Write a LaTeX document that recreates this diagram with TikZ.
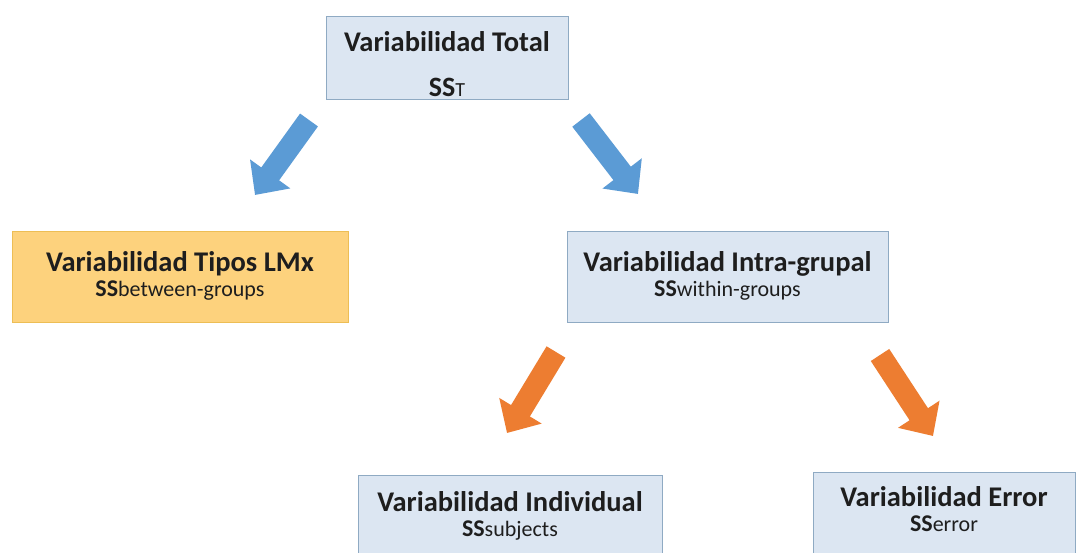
\documentclass[tikz,border=0pt]{standalone}
\usepackage{fontspec}
\setmainfont{Carlito}
\usepackage{xcolor}
\usetikzlibrary{positioning,arrows.meta}

\definecolor{boxblue}{HTML}{DCE6F2}
\definecolor{boxline}{HTML}{8FAAC3}
\definecolor{boxorange}{HTML}{FDD27D}
\definecolor{lineorange}{HTML}{EDBE55}
\definecolor{arrblue}{HTML}{5B9BD5}
\definecolor{arrorange}{HTML}{ED7D31}
\definecolor{textdark}{HTML}{1E1E1E}

% bold title, and SS with its subscript word
\newcommand{\boxtitle}[1]{{\fontsize{28.5}{25}\selectfont\bfseries #1}}
\newcommand{\sslabel}[2][7pt]{{\fontsize{24}{25}\selectfont\bfseries SS}{\fontsize{22}{25}\selectfont #2}\rule[-#1]{0pt}{#1}}

\begin{document}
\begin{tikzpicture}[x=1pt, y=-1pt, font=\fontsize{28.5}{25}\selectfont,
  box/.style={draw=boxline, fill=boxblue, line width=1pt, align=center, text=textdark, minimum height=82pt, inner sep=0pt},
  orangebox/.style={box, draw=lineorange, fill=boxorange},
  blockarr/.style={line width=22pt, -{Triangle[width=48pt, length=26pt]}},
  bluearr/.style={blockarr, draw=arrblue},
  orangearr/.style={blockarr, draw=arrorange}]
\clip (0,0) rectangle (1079,553);
\fill[white] (0,0) rectangle (1079,553);
\node[box, minimum width=242pt, minimum height=83pt, font=\fontsize{28.5}{45}\selectfont] (tot) at (447,58.5)
  {\rule{0pt}{32pt}\boxtitle{Variabilidad Total}\\{\fontsize{28}{45}\selectfont\bfseries SS}{\fontsize{20}{45}\selectfont T}};
\node[orangebox, minimum width=336pt, minimum height=91pt] (betw) at (180,277.5) {\boxtitle{Variabilidad Tipos LMx}\\\sslabel{between-groups}};
\node[box, minimum width=321pt, minimum height=91pt] (within) at (727.5,277.5) {\boxtitle{Variabilidad Intra-grupal}\\\sslabel{within-groups}};
\node[box, minimum width=304pt, minimum height=80pt, anchor=north] (subj) at (510,475) {\boxtitle{Variabilidad Individual}\\\sslabel[0pt]{subjects}};
\node[box, minimum width=262pt, anchor=north] (err) at (944,472) {\boxtitle{Variabilidad Error}\\\sslabel[10pt]{error}};
% arrow ends
\coordinate (t1) at (309,120);
\coordinate (h1) at (255,195);
\coordinate (t2) at (581,120);
\coordinate (h2) at (638,194);
\coordinate (t3) at (556,352);
\coordinate (h3) at (507,433);
\coordinate (t4) at (880,355);
\coordinate (h4) at (933,436);
\draw[bluearr] (t1) -- (h1);
\draw[bluearr] (t2) -- (h2);
\draw[orangearr] (t3) -- (h3);
\draw[orangearr] (t4) -- (h4);
\end{tikzpicture}
\end{document}
